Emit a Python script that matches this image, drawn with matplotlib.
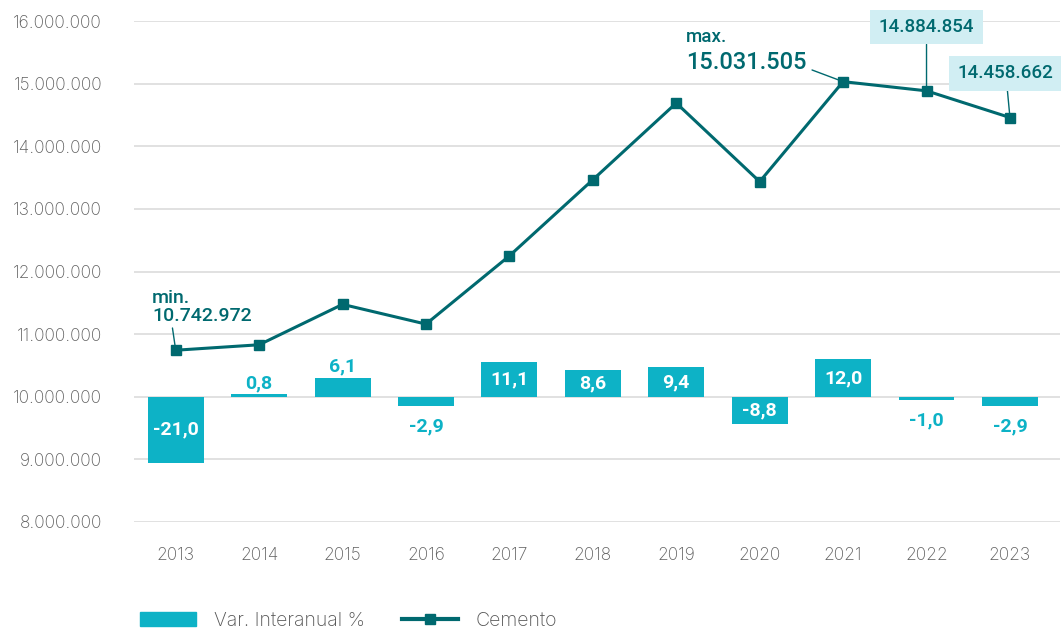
import matplotlib.pyplot as plt
from matplotlib.patches import Patch
from matplotlib.lines import Line2D

plt.rcParams['font.family'] = ['Roboto', 'DejaVu Sans']

# datos
anios = ['2013', '2014', '2015', '2016', '2017', '2018', '2019', '2020', '2021', '2022', '2023']
cemento = [10742972, 10830000, 11475000, 11160000, 12250000, 13465000,
           14690000, 13435000, 15031505, 14884854, 14458662]
var_interanual = [-21.0, 0.8, 6.1, -2.9, 11.1, 8.6, 9.4, -8.8, 12.0, -1.0, -2.9]
y_ticks = [8000000, 9000000, 10000000, 11000000, 12000000, 13000000,
           14000000, 15000000, 16000000]

c_linea = '#00696f'
c_barra = '#0db2c6'
c_caja = '#d1eef3'
c_gris = '#5f5f5f'
fuente_ejes = ['Inter', 'DejaVu Sans']

W, H = 1061, 632
fig = plt.figure(figsize=(W / 100, H / 100), dpi=100)
ax = fig.add_axes([134 / W, 1 - 522 / H, (1060 - 134) / W, (522 - 21) / H])
axb = ax.twinx()
axb.set_zorder(1)
ax.set_zorder(2)
ax.patch.set_visible(False)

x = list(range(len(anios)))

# barras: 1 punto % = 50.000 en el eje principal, 0 % en 10.000.000
axb.set_ylim((8000000 - 10000000) / 50000, (16000000 - 10000000) / 50000)
axb.set_yticks([(t - 10000000) / 50000 for t in y_ticks])
axb.yaxis.grid(True, color='#dedede', lw=1.3)
axb.set_axisbelow(True)
axb.tick_params(right=False, labelright=False)
barras = axb.bar(x, var_interanual, width=0.67, color=c_barra, zorder=2)

for xi, v in zip(x, var_interanual):
    txt = f'{v:.1f}'.replace('.', ',')
    if abs(v) >= 8:
        axb.text(xi, v / 2, txt, ha='center', va='center', color='white',
                 fontsize=14, fontweight='bold', zorder=3)
    elif v >= 0:
        axb.annotate(txt, (xi, v), xytext=(0, 1.5), textcoords='offset points',
                     ha='center', va='bottom', color=c_barra,
                     fontsize=14, fontweight='bold', zorder=3)
    else:
        axb.annotate(txt, (xi, v), xytext=(0, -8), textcoords='offset points',
                     ha='center', va='top', color=c_barra,
                     fontsize=14, fontweight='bold', zorder=3)

# linea
ax.plot(x, cemento, color=c_linea, lw=2.2, marker='s', markersize=7, zorder=5)
ax.set_ylim(8000000, 16000000)
ax.set_xlim(-0.5, 10.6)
ax.set_yticks(y_ticks)
ax.set_yticklabels([f'{t:,}'.replace(',', '.') for t in y_ticks])
ax.set_xticks(x)
ax.set_xticklabels(anios)
ax.tick_params(length=0, labelsize=12.5, labelcolor=c_gris)
ax.tick_params(axis='y', pad=23)
ax.tick_params(axis='x', pad=18)
for t in ax.get_xticklabels() + ax.get_yticklabels():
    t.set_fontweight('light')
    t.set_family(fuente_ejes)
for a in (ax, axb):
    for s in a.spines.values():
        s.set_visible(False)

# anotaciones
ax.annotate('min.\n10.742.972', (0, cemento[0]), xytext=(-17, 18),
            textcoords='offset points', ha='left', va='bottom',
            color=c_linea, fontsize=14, fontweight='medium', linespacing=1.0,
            arrowprops=dict(arrowstyle='-', color=c_linea, lw=1,
                            relpos=(0.2, 0.0), shrinkA=0, shrinkB=0))
ax.annotate('max.', (8, cemento[8]), xytext=(-113, 26),
            textcoords='offset points', ha='left', va='bottom',
            color=c_linea, fontsize=13.5, fontweight='medium')
ax.annotate('15.031.505', (8, cemento[8]), xytext=(-113, 14),
            textcoords='offset points', ha='left', va='center',
            color=c_linea, fontsize=17, fontweight='medium',
            arrowprops=dict(arrowstyle='-', color=c_linea, lw=1,
                            relpos=(1.0, 0.25), shrinkA=2, shrinkB=0))
ax.annotate('14.884.854', (9, cemento[9]), xytext=(0, 46),
            textcoords='offset points', ha='center', va='center',
            color=c_linea, fontsize=13.5, fontweight='medium',
            bbox=dict(boxstyle='square,pad=0.45', fc=c_caja, ec='none'),
            arrowprops=dict(arrowstyle='-', color=c_linea, lw=1,
                            shrinkA=0, shrinkB=0))
ax.annotate('14.458.662', (10, cemento[10]), xytext=(-3, 32),
            textcoords='offset points', ha='center', va='center',
            color=c_linea, fontsize=13.5, fontweight='medium',
            bbox=dict(boxstyle='square,pad=0.45', fc=c_caja, ec='none'),
            arrowprops=dict(arrowstyle='-', color=c_linea, lw=1,
                            shrinkA=0, shrinkB=0), annotation_clip=False)

# leyenda
handles = [Patch(color=c_barra),
           Line2D([], [], color=c_linea, lw=3, marker='s', markersize=7)]
leg = fig.legend(handles, ['Var. Interanual %', 'Cemento'], ncol=2,
                 loc='center left', bbox_to_anchor=(140 / W, 1 - 621 / H),
                 frameon=False, handlelength=2.9, prop={'family': fuente_ejes,
                                                        'size': 14, 'weight': 'light'},
                 handletextpad=0.9, columnspacing=1.9, borderpad=0,
                 borderaxespad=0)
for t in leg.get_texts():
    t.set_color('#555555')

fig.savefig('out.png', dpi=100)
